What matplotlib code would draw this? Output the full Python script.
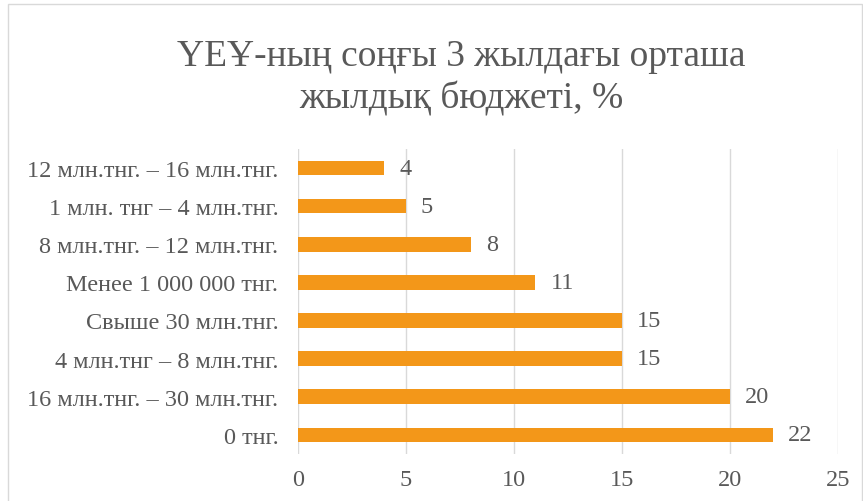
import matplotlib
matplotlib.use("Agg")
import matplotlib.pyplot as plt
from matplotlib.patches import Rectangle

plt.rcParams['font.family'] = ['Liberation Serif', 'DejaVu Serif']

# данные снизу вверх, как в исходной диаграмме
categories = [
    "0 тнг.",
    "16 млн.тнг. – 30 млн.тнг.",
    "4 млн.тнг – 8 млн.тнг.",
    "Свыше 30 млн.тнг.",
    "Менее 1 000 000 тнг.",
    "8 млн.тнг. – 12 млн.тнг.",
    "1 млн. тнг – 4 млн.тнг.",
    "12 млн.тнг. – 16 млн.тнг.",
]
values = [22, 20, 15, 15, 11, 8, 5, 4]
x_ticks = [0, 5, 10, 15, 20, 25]
title = "ҮЕҰ-ның соңғы 3 жылдағы орташа\nжылдық бюджеті, %"

text_color = "#595959"
bar_color = "#F39719"

fig = plt.figure(figsize=(8.63, 5.02), dpi=100)
ax = fig.add_axes([0.345, 0.094, 0.626, 0.607])

pos = range(len(categories))
ax.barh(pos, values, height=0.38, color=bar_color, zorder=3)
for p, v in zip(pos, values):
    ax.text(v + 0.7, p, str(v), va="center", ha="left", fontsize=17.5, color=text_color)

ax.set_xlim(0, 25)
ax.set_ylim(-0.5, len(categories) - 0.5)
ax.set_xticks(x_ticks)
ax.set_yticks(list(pos))
ax.set_yticklabels(categories)
ax.tick_params(axis="both", length=0, labelsize=17.5, colors=text_color)
ax.tick_params(axis="x", pad=11)
ax.tick_params(axis="y", pad=14)
ax.grid(axis="x", color="#D9D9D9", linewidth=1, zorder=0)
for s in ax.spines.values():
    s.set_visible(False)

fig.text(0.535, 0.845, title, ha="center", va="center", fontsize=27, color=text_color, linespacing=1.3)

# рамка вокруг диаграммы
fig.patches.append(Rectangle((0.009, -0.01), 0.99, 1.0, transform=fig.transFigure,
                             fill=False, edgecolor="#D9D9D9", linewidth=1))

fig.savefig("out.png", dpi=100)
